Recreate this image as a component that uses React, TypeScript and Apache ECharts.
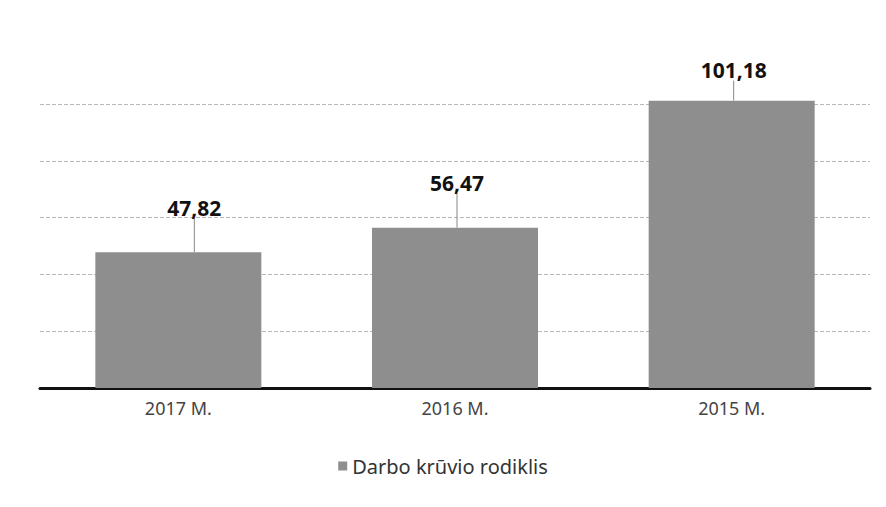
import React, { useEffect, useRef } from "react";
import * as echarts from "echarts";

const categories = ["2017 M.", "2016 M.", "2015 M."];
const seriesName = "Darbo krūvio rodiklis";
const values = [47.82, 56.47, 101.18];
const labelOffsets = [[16, -34], [2, -34], [2, -20]];

export default function App() {
  const ref = useRef<HTMLDivElement>(null);
  useEffect(() => {
    if (!ref.current) return;
    const chart = echarts.init(ref.current, null, { renderer: "svg" });
    chart.setOption({
      animation: false,
      backgroundColor: "#ffffff",
      grid: { left: 40, right: 16, top: 104, bottom: 119 },
      legend: {
        bottom: 26,
        left: "center",
        itemWidth: 9,
        itemHeight: 9,
        itemGap: 10,
        icon: "rect",
        textStyle: { fontFamily: "Noto Sans", fontSize: 20, color: "#333" },
        data: [seriesName],
      },
      xAxis: {
        type: "category",
        data: categories,
        axisLine: { lineStyle: { color: "#111", width: 3 } },
        axisTick: { show: false },
        axisLabel: { fontFamily: "Noto Sans", fontSize: 18, color: "#444", margin: 11 },
      },
      yAxis: {
        type: "value",
        min: 0,
        max: 100,
        interval: 20,
        axisLabel: { show: false },
        axisLine: { show: false },
        axisTick: { show: false },
        splitLine: { lineStyle: { color: "#b8b8b8", width: 1, type: "dashed" } },
      },
      series: [
        {
          name: seriesName,
          type: "bar",
          data: values,
          barCategoryGap: "40%",
          clip: false,
          itemStyle: { color: "#8e8e8e" },
          label: {
            show: true,
            position: "top",
            distance: 0,
            fontFamily: "Noto Sans",
            fontWeight: "bold",
            fontSize: 21,
            color: "#111",
            formatter: (p: any) => String(p.value).replace(".", ","),
          },
          labelLine: { show: true, lineStyle: { color: "#888", width: 1 } },
          labelLayout: (p: any) => ({
            dx: labelOffsets[p.dataIndex][0],
            dy: labelOffsets[p.dataIndex][1],
          }),
        },
      ],
    });
    return () => chart.dispose();
  }, []);
  return (
    <div
      ref={ref}
      style={{ position: "absolute", left: 0, top: 0, width: 886, height: 507 }}
    />
  );
}
